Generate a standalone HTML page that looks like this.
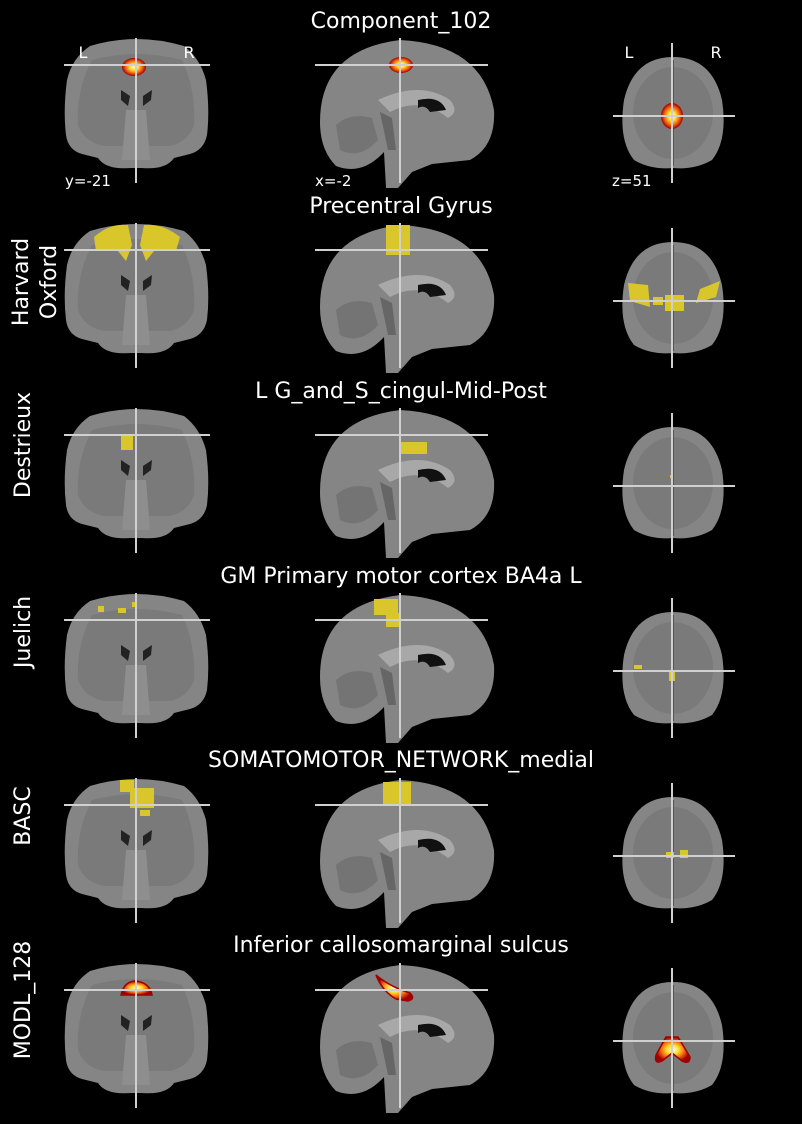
<!DOCTYPE html>
<html><head><meta charset="utf-8">
<style>
html,body{margin:0;padding:0;background:#000;}
svg{display:block;}
text{font-family:"DejaVu Sans","Liberation Sans",sans-serif;fill:#fff;}
</style></head>
<body>
<svg width="802" height="1124" viewBox="0 0 802 1124">
<defs>
<radialGradient id="hot" cx="50%" cy="50%" r="50%">
<stop offset="0" stop-color="#fffbe0"/><stop offset="0.35" stop-color="#ffe030"/><stop offset="0.7" stop-color="#f06010"/><stop offset="1" stop-color="#a00000"/>
</radialGradient>
<g id="coronal">
<path d="M90 46 Q136 32 184 46 Q200 58 206 80 Q210 110 207 135 Q204 150 190 154 L174 158 Q166 170 142 168 L130 168 Q106 170 98 158 L82 154 Q68 150 66 135 Q63 110 67 80 Q72 58 90 46Z" fill="#858585"/>
<path d="M92 60 Q136 48 182 60 Q196 90 194 125 Q188 142 170 146 L104 146 Q84 142 78 125 Q76 90 92 60Z" fill="#7a7a7a"/>
<path d="M121 90 L130 96 L128 106 L121 100Z M143 96 L152 90 L151 100 L143 106Z" fill="#222"/>
<path d="M126 110 L146 110 L150 160 L122 160Z" fill="#8e8e8e"/>
</g>
<g id="sagittal">
<path d="M320 122 Q320 50 400 40 Q482 44 494 110 Q496 146 470 160 L432 164 L412 172 L398 188 L386 188 L384 152 Q362 176 336 166 Q320 150 320 122Z" fill="#858585"/>
<path d="M378 100 Q420 80 450 100 Q460 112 448 118 Q420 96 390 112Z" fill="#a8a8a8"/>
<path d="M418 100 Q440 95 446 110 L430 112 Q425 104 418 108Z" fill="#111"/>
<path d="M336 125 Q350 112 372 118 L378 140 Q360 160 340 150Z" fill="#747474"/>
<path d="M380 112 L392 118 L396 150 L388 150Z" fill="#666"/>
</g>
<g id="axial">
<path d="M673 57 Q712 57 722 100 Q728 140 712 160 Q695 170 673 168 Q651 170 634 160 Q618 140 624 100 Q634 57 673 57Z" fill="#858585"/>
<ellipse cx="673" cy="113" rx="40" ry="46" fill="#7a7a7a"/>
<line x1="673" y1="60" x2="673" y2="166" stroke="#555" stroke-width="2"/>
</g>
<g id="cross">
<g stroke="#d0d0d0" stroke-width="2">
<line x1="136" y1="38" x2="136" y2="183"/><line x1="64" y1="65" x2="210" y2="65"/>
<line x1="400" y1="38" x2="400" y2="183"/><line x1="315" y1="65" x2="488" y2="65"/>
<line x1="672" y1="43" x2="672" y2="183"/><line x1="613" y1="116" x2="735" y2="116"/>
</g>
</g>
</defs>

<text x="401" y="28" font-size="22" text-anchor="middle">Component_102</text>
<text x="401" y="213" font-size="22" text-anchor="middle">Precentral Gyrus</text>
<text x="401" y="398" font-size="22" text-anchor="middle">L G_and_S_cingul-Mid-Post</text>
<text x="401" y="583" font-size="22" text-anchor="middle">GM Primary motor cortex BA4a L</text>
<text x="401" y="767" font-size="22" text-anchor="middle">SOMATOMOTOR_NETWORK_medial</text>
<text x="401" y="952" font-size="22" text-anchor="middle">Inferior callosomarginal sulcus</text>

<text transform="translate(28,282) rotate(-90)" font-size="22" text-anchor="middle">Harvard</text>
<text transform="translate(56,282) rotate(-90)" font-size="22" text-anchor="middle">Oxford</text>
<text transform="translate(30,445) rotate(-90)" font-size="22" text-anchor="middle">Destrieux</text>
<text transform="translate(30,632) rotate(-90)" font-size="22" text-anchor="middle">Juelich</text>
<text transform="translate(30,816) rotate(-90)" font-size="22" text-anchor="middle">BASC</text>
<text transform="translate(30,1000) rotate(-90)" font-size="22" text-anchor="middle">MODL_128</text>

<g>
<use href="#coronal"/><use href="#sagittal"/><use href="#axial"/>
<ellipse cx="134" cy="67" rx="12" ry="9" fill="url(#hot)"/>
<ellipse cx="401" cy="65" rx="12" ry="8" fill="url(#hot)"/>
<ellipse cx="672" cy="116" rx="11" ry="13" fill="url(#hot)"/>
<use href="#cross"/>
<text x="83" y="58" font-size="16" text-anchor="middle">L</text>
<text x="189" y="58" font-size="16" text-anchor="middle">R</text>
<text x="629" y="58" font-size="16" text-anchor="middle">L</text>
<text x="716" y="58" font-size="16" text-anchor="middle">R</text>
<text x="65" y="186" font-size="15">y=-21</text>
<text x="315" y="186" font-size="15">x=-2</text>
<text x="612" y="186" font-size="15">z=51</text>
</g>
<g transform="translate(0,185)">
<use href="#coronal"/><use href="#sagittal"/><use href="#axial"/>
<g fill="#d9c62a">
<path d="M94 52 Q110 38 128 40 L132 60 L126 76 L118 66 L108 64 L96 66Z"/>
<path d="M180 52 Q162 38 144 40 L140 60 L146 76 L154 66 L164 64 L176 66Z"/>
<rect x="386" y="40" width="24" height="30"/>
<path d="M628 98 L648 100 L650 122 L630 116Z"/>
<path d="M720 96 L700 104 L696 118 L716 112Z"/>
<rect x="665" y="110" width="19" height="16"/>
<rect x="653" y="112" width="10" height="8"/>
</g>
<use href="#cross"/>
</g>
<g transform="translate(0,370)">
<use href="#coronal"/><use href="#sagittal"/><use href="#axial"/>
<g fill="#d9c62a">
<rect x="121" y="66" width="12" height="14"/>
<rect x="401" y="72" width="26" height="12"/>
<rect x="670" y="105" width="3" height="3"/>
</g>
<use href="#cross"/>
</g>
<g transform="translate(0,555)">
<use href="#coronal"/><use href="#sagittal"/><use href="#axial"/>
<g fill="#d9c62a">
<rect x="98" y="51" width="6" height="6"/><rect x="118" y="53" width="8" height="5"/><rect x="132" y="47" width="4" height="5"/>
<rect x="374" y="44" width="24" height="16"/><rect x="386" y="58" width="14" height="14"/>
<rect x="634" y="110" width="8" height="4"/><rect x="669" y="116" width="6" height="10"/>
</g>
<use href="#cross"/>
</g>
<g transform="translate(0,740)">
<use href="#coronal"/><use href="#sagittal"/><use href="#axial"/>
<g fill="#d9c62a">
<rect x="120" y="40" width="14" height="12"/><rect x="130" y="48" width="24" height="20"/><rect x="140" y="70" width="10" height="6"/>
<rect x="383" y="42" width="28" height="22"/>
<rect x="666" y="112" width="8" height="6"/><rect x="680" y="110" width="8" height="8"/>
</g>
<use href="#cross"/>
</g>
<g transform="translate(0,925)">
<use href="#coronal"/><use href="#sagittal"/><use href="#axial"/>
<path d="M121 70 Q124 56 136 56 Q150 58 152 70 Z" fill="url(#hot)" stroke="#a00000" stroke-width="1.5"/>
<path d="M376 50 Q390 62 410 68 Q416 74 408 76 L396 74 Q382 66 376 50Z" fill="url(#hot)" stroke="#a00000" stroke-width="1.5"/>
<path d="M666 112 L678 112 L690 132 Q690 140 682 136 L672 128 L662 136 Q654 140 656 130Z" fill="url(#hot)" stroke="#a00000" stroke-width="1.5"/>
<use href="#cross"/>
</g>
</svg>
</body></html>
